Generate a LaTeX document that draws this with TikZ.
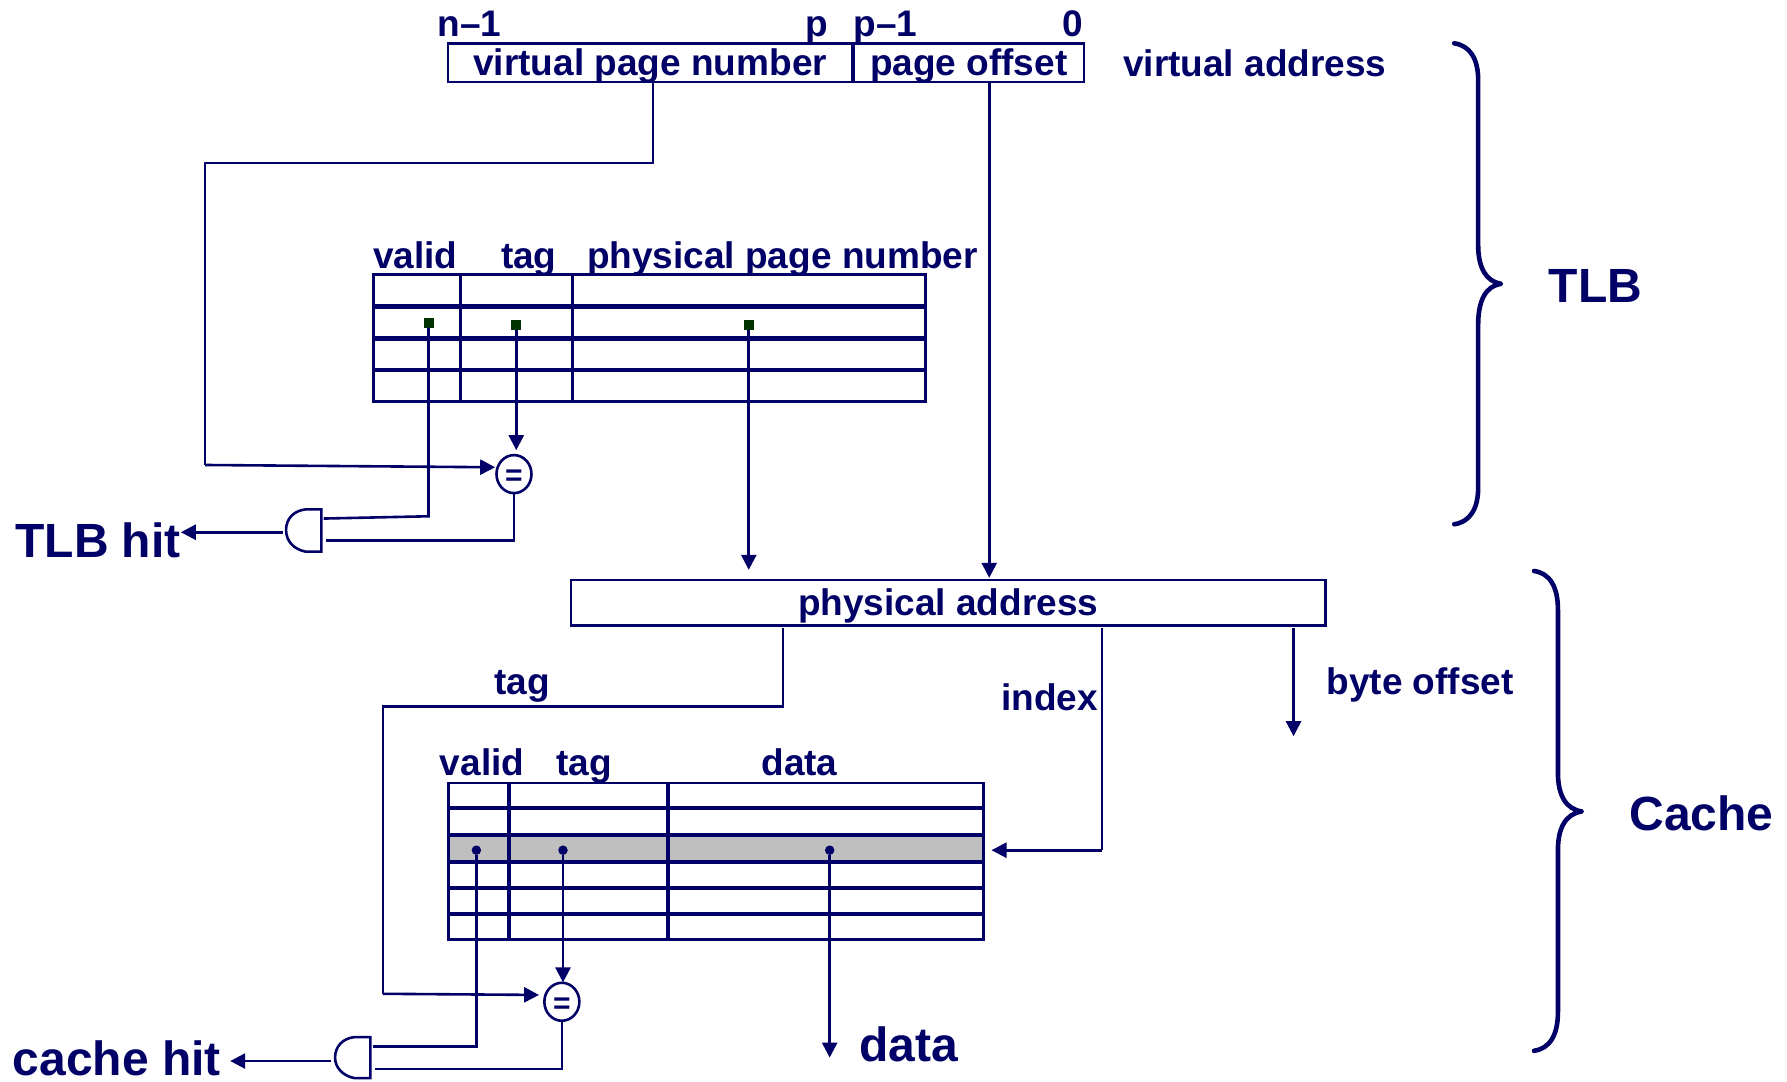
\documentclass[tikz,border=0pt]{standalone}
\usepackage{fontspec}
\setmainfont{Liberation Sans}
\usetikzlibrary{arrows.meta,shapes.geometric}
\definecolor{inkblue}{HTML}{000066}
\definecolor{cellgreen}{HTML}{003300}
\tikzset{
  wire/.style={draw=inkblue, line width=2.6pt},
  arrowwire/.style={wire, -{Triangle[length=15pt,width=15pt]}},
  gridline/.style={draw=inkblue, line width=2.7pt},
  heavyline/.style={draw=inkblue, line width=4.6pt},
  midline/.style={draw=inkblue, line width=4pt},
  brace/.style={draw=inkblue, line width=4.6pt, line join=round, line cap=round},
  label/.style={inkblue, font=\fontsize{37}{37}\bfseries\selectfont, anchor=base, inner sep=0pt},
  biglabel/.style={inkblue, font=\fontsize{48}{48}\bfseries\selectfont, anchor=base, inner sep=0pt},
  addrbox/.style={wire, inkblue, font=\fontsize{37}{37}\bfseries\selectfont, inner sep=0pt, outer sep=0pt, text depth=2pt, anchor=north west},
  eqnode/.style={wire, ellipse, inkblue, minimum width=35pt, minimum height=38pt, inner sep=0pt, text height=23pt, font=\fontsize{30}{30}\bfseries\selectfont},
  celldot/.style={fill=inkblue, circle, inner sep=0pt, minimum size=9.5pt},
  cellsquare/.style={fill=cellgreen, inner sep=0pt, minimum size=10pt}
}
\begin{document}
\begin{tikzpicture}[x=1.1397pt, y=-1.1397pt]
  \useasboundingbox (0,0) rectangle (1568,949);

  \def\yvt{38}; % virtual address top
  \def\ypt{509}; % physical address top

  % address boxes
  \node[addrbox, minimum width=404.6pt, minimum height=38.7pt] (vpn) at (393,\yvt) {virtual page number};
  \node[addrbox, minimum width=230.2pt, minimum height=38.7pt] (offset) at (749,\yvt) {page offset};
  \node[addrbox, minimum width=754.5pt, minimum height=45.6pt] (paddr) at (501,\ypt) {physical address};

  \node[label] (bitnm) at (412,32) {n–1};
  \node[label] (bitp) at (716.5,32) {p};
  \node[label] (bitpm) at (777,32) {p–1};
  \node[label] (bitz) at (941,32) {0};
  \node[label] (vaddr) at (1101,67) {virtual address};

  % TLB table
  \foreach \y in {268.8,296.8,324.8} \draw[heavyline] (328,\y) -- (812,\y);
  \foreach \x in {404.2,502.5} \draw[gridline] (\x,241) -- (\x,352);
  \draw[gridline] (328,241) rectangle (812,352);

  \node[label] (tlbvalid) at (364.5,236) {valid};
  \node[label] (tlbtag) at (464,236) {tag};
  \node[label] (tlbppn) at (686.5,236) {physical page number};

  \node[cellsquare] (tlbv) at (376,283) {};
  \node[cellsquare] (tlbt) at (453,285) {};
  \node[cellsquare] (tlbp) at (657,285) {};

  % cache table
  \fill[black!25] (393.5,733) rectangle (863,756);
  \foreach \y in {708.7,732.5,756,779,802} \draw[midline] (393.5,\y) -- (863,\y);
  \foreach \x in {446.6,585.8} \draw[midline] (\x,687) -- (\x,824.5);
  \draw[gridline] (393.5,687) rectangle (863,824.5);

  \node[label] (cvalid) at (423,680.5) {valid};
  \node[label] (ctag) at (512.5,680.5) {tag};
  \node[label] (cdata) at (701.5,680.5) {data};

  \node[celldot] (cv) at (418,746) {};
  \node[celldot] (ct) at (494,746) {};
  \node[celldot] (cd) at (728,746) {};

  % comparators
  \node[eqnode] (tlbeq) at (451,416) {=};
  \node[eqnode] (ceq) at (493,879) {=};

  % and gates
  \draw[wire] (282,447) -- (282,484) -- (268,484) .. controls (258,482) and (251,475) .. (251,465)
    .. controls (251,455) and (258,448) .. (268,447) -- cycle;
  \draw[wire] (325,910) -- (325,946) -- (311,946) .. controls (301,944) and (294,937) .. (294,928)
    .. controls (294,918) and (301,911) .. (311,910) -- cycle;
  \coordinate (tlbgatea) at (284,455);
  \coordinate (tlbgateb) at (286,474);
  \coordinate (tlbgateo) at (248,467);
  \coordinate (cgatea) at (327,918);
  \coordinate (cgateb) at (329,938);
  \coordinate (cgateo) at (290,931);

  \node[biglabel] (tlbhit) at (86,489.5) {TLB hit};
  \node[biglabel] (chit) at (102.5,943.5) {cache hit};
  \node[biglabel] (dataout) at (797.5,931) {data};

  % TLB connectors
  \coordinate (vpnturn) at (573,143);
  \coordinate (vpnleft) at (180,143);
  \coordinate (vpndown) at (180,408);
  \draw[wire] (vpn.south -| vpnturn) -- (vpnturn) -- (vpnleft) -- (vpndown);
  \draw[arrowwire] (vpndown) -- (tlbeq.west |- 0,410);
  \draw[arrowwire] (tlbt) -- (453,395);
  \coordinate (tlbvturn) at (376,453);
  \draw[wire] (tlbv) -- (tlbvturn) -- (tlbgatea);
  \coordinate (tlbeqturn) at (451,474);
  \draw[wire] (tlbeq) ++(0,17) -- (tlbeqturn) -- (tlbgateb);
  \draw[arrowwire] (tlbgateo) -- (tlbhit.east |- tlbgateo);
  \draw[arrowwire] (tlbp) -- (657,500);
  \draw[arrowwire] (offset.south -| 868,0) -- (868,507);

  % cache connectors
  \coordinate (tagturn) at (687,620);
  \coordinate (tagleft) at (336,620);
  \coordinate (tagdown) at (336,872);
  \draw[wire] (paddr.south -| tagturn) ++(0,2) -- (tagturn) -- (tagleft) -- (tagdown);
  \draw[arrowwire] (tagdown) -- (473,873);
  \coordinate (indexturn) at (967,746);
  \draw[wire] (paddr.south -| indexturn) ++(0,2) -- (indexturn);
  \draw[arrowwire] (indexturn) -- (870,746);
  \draw[arrowwire] (paddr.south -| 1135,0) ++(0,2) -- (1135,646);
  \draw[arrowwire] (ct) -- (494,862);
  \coordinate (cvturn) at (418,918);
  \draw[wire] (cv) -- (cvturn) -- (cgatea);
  \coordinate (ceqturn) at (493,938);
  \draw[wire] (ceq) ++(0,17) -- (ceqturn) -- (cgateb);
  \draw[arrowwire] (cgateo) -- (202,931);
  \draw[arrowwire] (cd) -- (728,928);

  \node[label] (ptag) at (458,609) {tag};
  \node[label] (pindex) at (921,623) {index};
  \node[label] (pbyte) at (1246,609) {byte offset};

  % braces
  \draw[brace] (1276,38) .. controls (1290,40) and (1297,52) .. (1297,70) -- (1297,215)
    .. controls (1297,235) and (1304,247) .. (1317,249)
    .. controls (1304,251) and (1297,263) .. (1297,285) -- (1297,428)
    .. controls (1297,446) and (1290,458) .. (1276,460);
  \draw[brace] (1346,501) .. controls (1360,503) and (1367,515) .. (1367,535) -- (1367,678)
    .. controls (1367,698) and (1374,710) .. (1388,712)
    .. controls (1374,714) and (1367,726) .. (1367,746) -- (1367,888)
    .. controls (1367,908) and (1360,920) .. (1346,922);
  \node[biglabel] (tlbname) at (1400,265) {TLB};
  \node[biglabel] (cachename) at (1493,728.5) {Cache};

\end{tikzpicture}
\end{document}
